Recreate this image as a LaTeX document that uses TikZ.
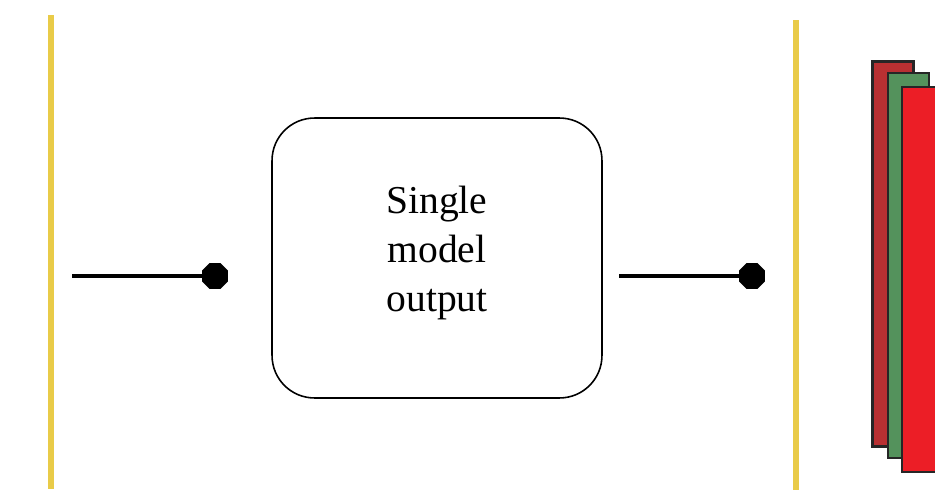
\documentclass[tikz,border=0pt]{standalone}
\usepackage{fontspec}
\setmainfont{Liberation Serif}
\usetikzlibrary{shapes.geometric, positioning, calc}

\definecolor{railyellow}{RGB}{233,203,72}
\definecolor{layerdark}{RGB}{184,48,50}
\definecolor{layergreen}{RGB}{84,146,92}
\definecolor{layerred}{RGB}{236,30,38}

\begin{document}
\begin{tikzpicture}[
    x=0.02cm, y=-0.02cm,
    rail/.style={
        draw=none,
        rectangle,
        fill=railyellow,
        minimum width=0.13cm,
        minimum height=9.5cm,
        inner sep=0pt
    },
    modelbox/.style={
        draw,
        rectangle,
        rounded corners=0.85cm,
        line width=0.9pt,
        minimum width=6.6cm,
        minimum height=5.6cm,
        align=center,
        text depth=10.5pt,
        font=\fontsize{22.5}{27.8}\selectfont
    },
    joint/.style={
        regular polygon,
        regular polygon sides=8,
        fill=black,
        minimum size=0.56cm,
        inner sep=0pt
    },
    wire/.style={
        line width=2.3pt,
        black
    },
    layer/.style={
        draw=black!85,
        rectangle,
        line width=1.2pt,
        minimum width=0.82cm,
        minimum height=7.7cm,
        inner sep=0pt
    }
]
    \useasboundingbox (0,0) rectangle (935,500);

    % Rails
    \node[rail] (railL) at (51,252) {};
    \node[rail, minimum height=9.4cm] (railR) at (796,255) {};

    % Model block
    \node[modelbox] (model) at (437,258) {Single\\model\\output};

    % Joints
    \node[joint] (jointL) at (215,276) {};
    \node[joint] (jointR) at (752,276) {};

    % Wires
    \coordinate (inL) at (72,276);
    \coordinate (inR) at (619,276);
    \draw[wire] (inL) -- (jointL);
    \draw[wire] (inR) -- (jointR);

    % Stacked layers
    \node[layer, fill=layerdark] (layerA) at (893,254) {};
    \node[layer, fill=layergreen] (layerB) at (908.5,265.5) {};
    \node[layer, fill=layerred] (layerC) at (922.5,279.5) {};

\end{tikzpicture}
\end{document}
